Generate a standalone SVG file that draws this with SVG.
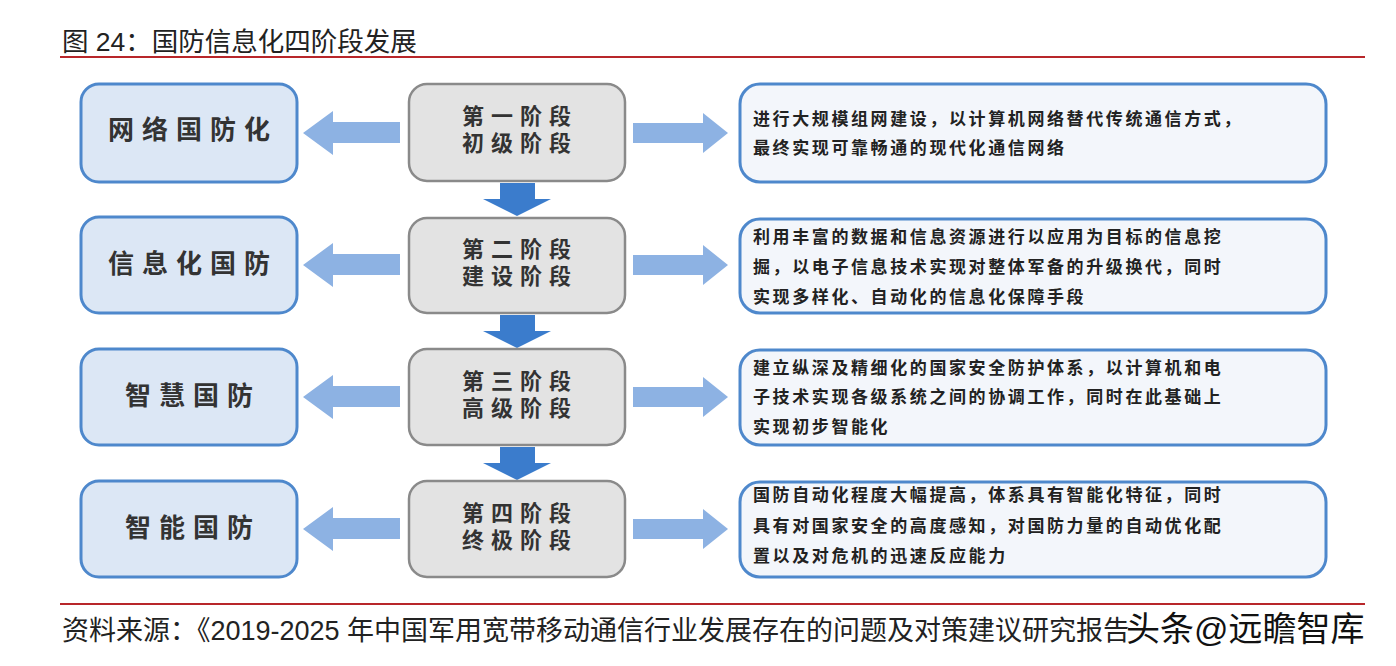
<svg xmlns="http://www.w3.org/2000/svg" width="1396" height="666" viewBox="0 0 1396 666">
<style>
text{font-family:"Liberation Sans","Noto Sans CJK SC",sans-serif}
.title{font-size:26.5px;fill:#222}
.foot{font-size:27px;fill:#222}
.wm{font-size:34px;fill:#111;stroke:#fff;stroke-width:1;paint-order:stroke}
.lbox{fill:#dce7f5;stroke:#4e88cc;stroke-width:3}
.cbox{fill:#e3e3e3;stroke:#8a8a8a;stroke-width:2.5}
.rbox{fill:#f3f6fb;stroke:#4e88cc;stroke-width:3}
.ltxt{font-size:26px;font-weight:700;fill:#333;letter-spacing:8px;text-anchor:middle}
.ctxt{font-size:22px;font-weight:700;fill:#333;letter-spacing:7px;text-anchor:middle}
.rtxt{font-size:17px;font-weight:700;fill:#222;letter-spacing:2.6px}
.side{fill:#8db2e3}
.down{fill:#3b7ccc}
.rule{stroke:#b8262a;stroke-width:2}
</style>
<rect width="1396" height="666" fill="#ffffff"/>
<text class="title" x="62" y="51">图 24：国防信息化四阶段发展</text>
<line class="rule" x1="60" y1="57" x2="1365" y2="57"/>

<g id="connectors">
  <path id="la1" class="side" d="M303,133 L333,111 L333,122 L400,122 L400,143 L333,143 L333,155 Z"/>
  <path id="la2" class="side" d="M303,265 L333,243 L333,254 L400,254 L400,275 L333,275 L333,287 Z"/>
  <path id="la3" class="side" d="M303,397 L333,375 L333,386 L400,386 L400,407 L333,407 L333,419 Z"/>
  <path id="la4" class="side" d="M303,529 L333,507 L333,518 L400,518 L400,539 L333,539 L333,551 Z"/>
  <path id="ra1" class="side" d="M633,123 L703,123 L703,113 L728,133 L703,153 L703,143 L633,143 Z"/>
  <path id="ra2" class="side" d="M633,255 L703,255 L703,245 L728,265 L703,285 L703,275 L633,275 Z"/>
  <path id="ra3" class="side" d="M633,387 L703,387 L703,377 L728,397 L703,417 L703,407 L633,407 Z"/>
  <path id="ra4" class="side" d="M633,519 L703,519 L703,509 L728,529 L703,549 L703,539 L633,539 Z"/>
  <path id="da1" class="down" d="M500,183 L535,183 L535,199 L551,199 L517,216 L483,199 L500,199 Z"/>
  <path id="da2" class="down" d="M500,315 L535,315 L535,331 L551,331 L517,348 L483,331 L500,331 Z"/>
  <path id="da3" class="down" d="M500,447 L535,447 L535,463 L551,463 L517,480 L483,463 L500,463 Z"/>
</g>

<g id="left1"><rect class="lbox" x="81" y="84" width="216" height="98" rx="18"/><text class="ltxt" x="193" y="139">网络国防化</text></g>
<g id="left2"><rect class="lbox" x="81" y="217" width="216" height="96" rx="18"/><text class="ltxt" x="193" y="273">信息化国防</text></g>
<g id="left3"><rect class="lbox" x="81" y="349" width="216" height="96" rx="18"/><text class="ltxt" x="193" y="405">智慧国防</text></g>
<g id="left4"><rect class="lbox" x="81" y="481" width="216" height="96" rx="18"/><text class="ltxt" x="193" y="537">智能国防</text></g>

<g id="stage1"><rect class="cbox" x="409" y="84" width="216" height="97" rx="18"/><text class="ctxt" x="520" y="124">第一阶段</text><text class="ctxt" x="520" y="151">初级阶段</text></g>
<g id="stage2"><rect class="cbox" x="409" y="218" width="216" height="95" rx="18"/><text class="ctxt" x="520" y="257">第二阶段</text><text class="ctxt" x="520" y="284">建设阶段</text></g>
<g id="stage3"><rect class="cbox" x="409" y="349" width="216" height="96" rx="18"/><text class="ctxt" x="520" y="389">第三阶段</text><text class="ctxt" x="520" y="416">高级阶段</text></g>
<g id="stage4"><rect class="cbox" x="409" y="481" width="216" height="96" rx="18"/><text class="ctxt" x="520" y="521">第四阶段</text><text class="ctxt" x="520" y="548">终极阶段</text></g>

<g id="desc1"><rect class="rbox" x="740" y="84" width="586" height="98" rx="20"/>
<text class="rtxt" x="753" y="125">进行大规模组网建设，以计算机网络替代传统通信方式，</text>
<text class="rtxt" x="753" y="154">最终实现可靠畅通的现代化通信网络</text></g>
<g id="desc2"><rect class="rbox" x="740" y="219" width="586" height="94" rx="20"/>
<text class="rtxt" x="753" y="243">利用丰富的数据和信息资源进行以应用为目标的信息挖</text>
<text class="rtxt" x="753" y="273">掘，以电子信息技术实现对整体军备的升级换代，同时</text>
<text class="rtxt" x="753" y="303">实现多样化、自动化的信息化保障手段</text></g>
<g id="desc3"><rect class="rbox" x="740" y="350" width="586" height="95" rx="20"/>
<text class="rtxt" x="753" y="374">建立纵深及精细化的国家安全防护体系，以计算机和电</text>
<text class="rtxt" x="753" y="403">子技术实现各级系统之间的协调工作，同时在此基础上</text>
<text class="rtxt" x="753" y="433">实现初步智能化</text></g>
<g id="desc4"><rect class="rbox" x="740" y="482" width="586" height="95" rx="20"/>
<text class="rtxt" x="753" y="501">国防自动化程度大幅提高，体系具有智能化特征，同时</text>
<text class="rtxt" x="753" y="532">具有对国家安全的高度感知，对国防力量的自动优化配</text>
<text class="rtxt" x="753" y="562">置以及对危机的迅速反应能力</text></g>

<line class="rule" x1="60" y1="604" x2="1365" y2="604"/>
<text class="foot" x="62" y="640">资料来源：《2019-2025 年中国军用宽带移动通信行业发展存在的问题及对策建议研究报告</text>
<text class="wm" x="1126" y="641">头条@远瞻智库</text>
</svg>
